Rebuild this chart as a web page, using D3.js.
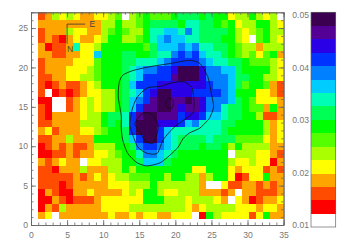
<!DOCTYPE html>
<html>
<head>
<meta charset="utf-8">
<script src="https://cdn.jsdelivr.net/npm/d3@7"></script>
<style>
  html, body { margin: 0; padding: 0; background: #fff; }
  svg { display: block; font-family: "Liberation Sans", sans-serif; }
  .tick text, .bar-label { font-size: 8.6px; fill: #777; }
</style>
</head>
<body>
<div id="chart"></div>
<script>
// one char per cell, hex index into levelColors. top row of the map first
const cellLevels = [
  '23545433445605676667888787745575450',
  '33333333355755678888799887674557754',
  '233354433567655799AA9B9888875456755',
  '23213433457755679ABAA99888775406754',
  '31223944577777768AAABAB998876553555',
  '33223344A7778877899BCBCA99876564673',
  '23333444677788999ABCCCCBA9988766654',
  '23334445677789ABBCCDFFFDBBAA8777754',
  '22334455677789ACCCCEFFFDBBBA8877554',
  '2123223457778ACCCDDDDDDDCBBA8677632',
  '20121234455789ACDFFDDDCCCCBA7774432',
  '1100234545578ABCEFFEEFEDBBBA8764443',
  '2100234545578ACEEFFEDEEDBB988766373',
  '2133334557889CEFFEEECDDCAA988775223',
  '2233335557879CFFFDDDCAB999887777534',
  '3423334456778CFFFCA9999999877777534',
  '2233533377778ACFFCA9888898886666434',
  '12323223555778BCCBA9888788757555533',
  '112232334456779BBA98777777705554432',
  '323433044555778AAA87777777754454413',
  '22133353335575777777774477743444232',
  '22222323434556667757755357741244733',
  '22212333334445557555555300422332323',
  '13211334333345477544555333230332223',
  '11321222344444477755545554304312334',
  '13253333344445555555543455554443443',
  '34033333334334344334440175444424733'
];

const levelColors = [
  '#ffffff', '#ff0000', '#ff4c00', '#ffa500', '#ffff00', '#aaff00', '#55ff00', '#00ff00',
  '#00ff55', '#00ffb4', '#00ccff', '#0080ff', '#0033ff', '#2a00e6', '#550095', '#3c0050'
];

const xTicks = [0, 5, 10, 15, 20, 25, 30, 35];
const yTicks = [0, 5, 10, 15, 20, 25];
const barTicks = [0.01, 0.02, 0.03, 0.04, 0.05];

// contours in data units
const contourOuter = [[16.5, 20.1], [19.3, 20.5], [21.9, 20.9], [23.4, 20.5], [24.5, 18.8], [24.9, 17.1], [25.3, 15], [24.8, 13.7], [24.5, 13.3], [23.4, 12.3], [22, 11.7], [21.1, 11], [20.4, 9.9], [19.3, 8.9], [17.9, 7.9], [16.1, 7.5], [14.7, 7.9], [13.4, 9.1], [12.7, 10.8], [12.5, 12.4], [12.5, 13.9], [12.1, 16.2], [12.2, 18], [12.7, 19], [14.1, 19.6]];
const contourMid = [[17.9, 17.6], [16.1, 17.4], [14.7, 16.2], [14, 14.6], [13.7, 12.8], [14, 11.7], [14.8, 9.9], [16.1, 9.1], [17.5, 9.1], [18.3, 10.8], [19.7, 12.3], [21.1, 13.3], [22.4, 14.2], [22.6, 15.5], [22.3, 17.4], [21.1, 18.2], [19.3, 18]];
const contourInner = [[14.4, 12.9], [14.7, 12.3], [15.1, 11.7], [15.9, 10.6], [16.9, 10.4], [17.5, 11.7], [17.6, 12.7], [16.9, 13.9], [16.1, 14.3], [15.1, 13.9]];
const contourCore = [[19.2, 16.1], [19.7, 15.8], [19.7, 15.3], [19.5, 14.8], [19.1, 14.8], [18.7, 15.1], [18.7, 15.7]];
const contours = [contourOuter, contourMid, contourInner, contourCore];

const compass = [[7.5, 25.5], [5, 25.5], [5, 23]];

const width = 346;
const height = 247;
const axisColor = '#666';

const x = d3.scaleLinear().domain([0, 35]).range([31, 283.6]);
const y = d3.scaleLinear().domain([0, 27]).range([225, 12.3]);

const colBand = d3.scaleBand().domain(d3.range(35)).range([x(1), x(35)]);
const rowBand = d3.scaleBand().domain(d3.range(cellLevels.length)).range([y(27), y(0.72)]);

const svg = d3.select('#chart').append('svg')
  .attr('width', width)
  .attr('height', height);

const cells = cellLevels.flatMap((row, r) => Array.from(row, (c, i) => ({ r, i, level: parseInt(c, 16) })));

svg.append('g').attr('class', 'cells')
  .attr('shape-rendering', 'crispEdges')
  .selectAll('rect')
  .data(cells)
  .join('rect')
  .attr('x', d => colBand(d.i))
  .attr('y', d => rowBand(d.r))
  .attr('width', colBand.bandwidth())
  .attr('height', rowBand.bandwidth())
  .attr('fill', d => levelColors[d.level]);

const line = d3.line()
  .x(d => x(d[0]))
  .y(d => y(d[1]));

svg.append('g').attr('class', 'contours')
  .selectAll('path')
  .data(contours)
  .join('path')
  .attr('d', d => line.curve(d3.curveCardinalClosed.tension(0.3))(d))
  .attr('fill', 'none')
  .attr('stroke', '#111')
  .attr('stroke-width', 0.8);

svg.append('path')
  .attr('d', line.curve(d3.curveLinear)(compass))
  .attr('fill', 'none')
  .attr('stroke', '#333')
  .attr('stroke-width', 0.8);

svg.append('text').attr('x', x(8.1)).attr('y', y(25.1)).text('E')
  .attr('font-size', 8.6).attr('fill', '#444');
svg.append('text').attr('x', x(5)).attr('y', y(22)).text('N')
  .attr('font-size', 8.6).attr('fill', '#444');

// ticks point inward on all four sides, labels only on bottom and left
function drawAxis(axis, translate, ticks, size, padding) {
  const g = svg.append('g')
    .attr('transform', translate)
    .call(axis.tickValues(ticks).tickSizeInner(-size).tickSizeOuter(0).tickPadding(padding));
  g.selectAll('line, path').attr('stroke', axisColor).attr('stroke-width', 0.8);
  g.selectAll('text').attr('font-family', null).attr('font-size', null);
  return g;
}

const noLabel = () => '';
const xMinor = d3.range(0, 36);
const yMinor = d3.range(0, 28);
const bottom = `translate(0,${y(0)})`;
const top_ = `translate(0,${y(27)})`;
const left = `translate(${x(0)},0)`;
const right = `translate(${x(35)},0)`;

drawAxis(d3.axisBottom(x).tickFormat(noLabel), bottom, xMinor, 2.5, 0);
drawAxis(d3.axisTop(x).tickFormat(noLabel), top_, xMinor, 2.5, 0);
drawAxis(d3.axisLeft(y).tickFormat(noLabel), left, yMinor, 2.5, 0);
drawAxis(d3.axisRight(y).tickFormat(noLabel), right, yMinor, 2.5, 0);

drawAxis(d3.axisBottom(x).tickFormat(d3.format('d')), bottom, xTicks, 5, 7);
drawAxis(d3.axisTop(x).tickFormat(noLabel), top_, xTicks, 5, 0);
drawAxis(d3.axisLeft(y).tickFormat(d3.format('d')), left, yTicks, 5, 3);
drawAxis(d3.axisRight(y).tickFormat(noLabel), right, yTicks, 5, 0);

// colour bar
const barLevels = d3.range(levelColors.length);
const barBand = d3.scaleBand().domain(barLevels.slice().reverse()).range([12.3, 227]);
const barLabelY = d3.scaleLinear().domain([0.01, 0.05]).range([225, 15]);

const bar = svg.append('g').attr('class', 'colorbar');

bar.selectAll('rect')
  .data(barLevels)
  .join('rect')
  .attr('shape-rendering', 'crispEdges')
  .attr('x', 311)
  .attr('y', d => barBand(d))
  .attr('width', 24.7)
  .attr('height', barBand.bandwidth() + 0.2)
  .attr('fill', d => levelColors[d]);

bar.append('rect')
  .attr('x', 311)
  .attr('y', 12.3)
  .attr('width', 24.7)
  .attr('height', 214.7)
  .attr('fill', 'none')
  .attr('stroke', axisColor)
  .attr('stroke-width', 0.7);

bar.selectAll('text')
  .data(barTicks)
  .join('text')
  .attr('class', 'bar-label')
  .attr('x', 309)
  .attr('y', d => barLabelY(d))
  .attr('dy', '0.35em')
  .attr('text-anchor', 'end')
  .text(d3.format('.2f'));
</script>
</body>
</html>
